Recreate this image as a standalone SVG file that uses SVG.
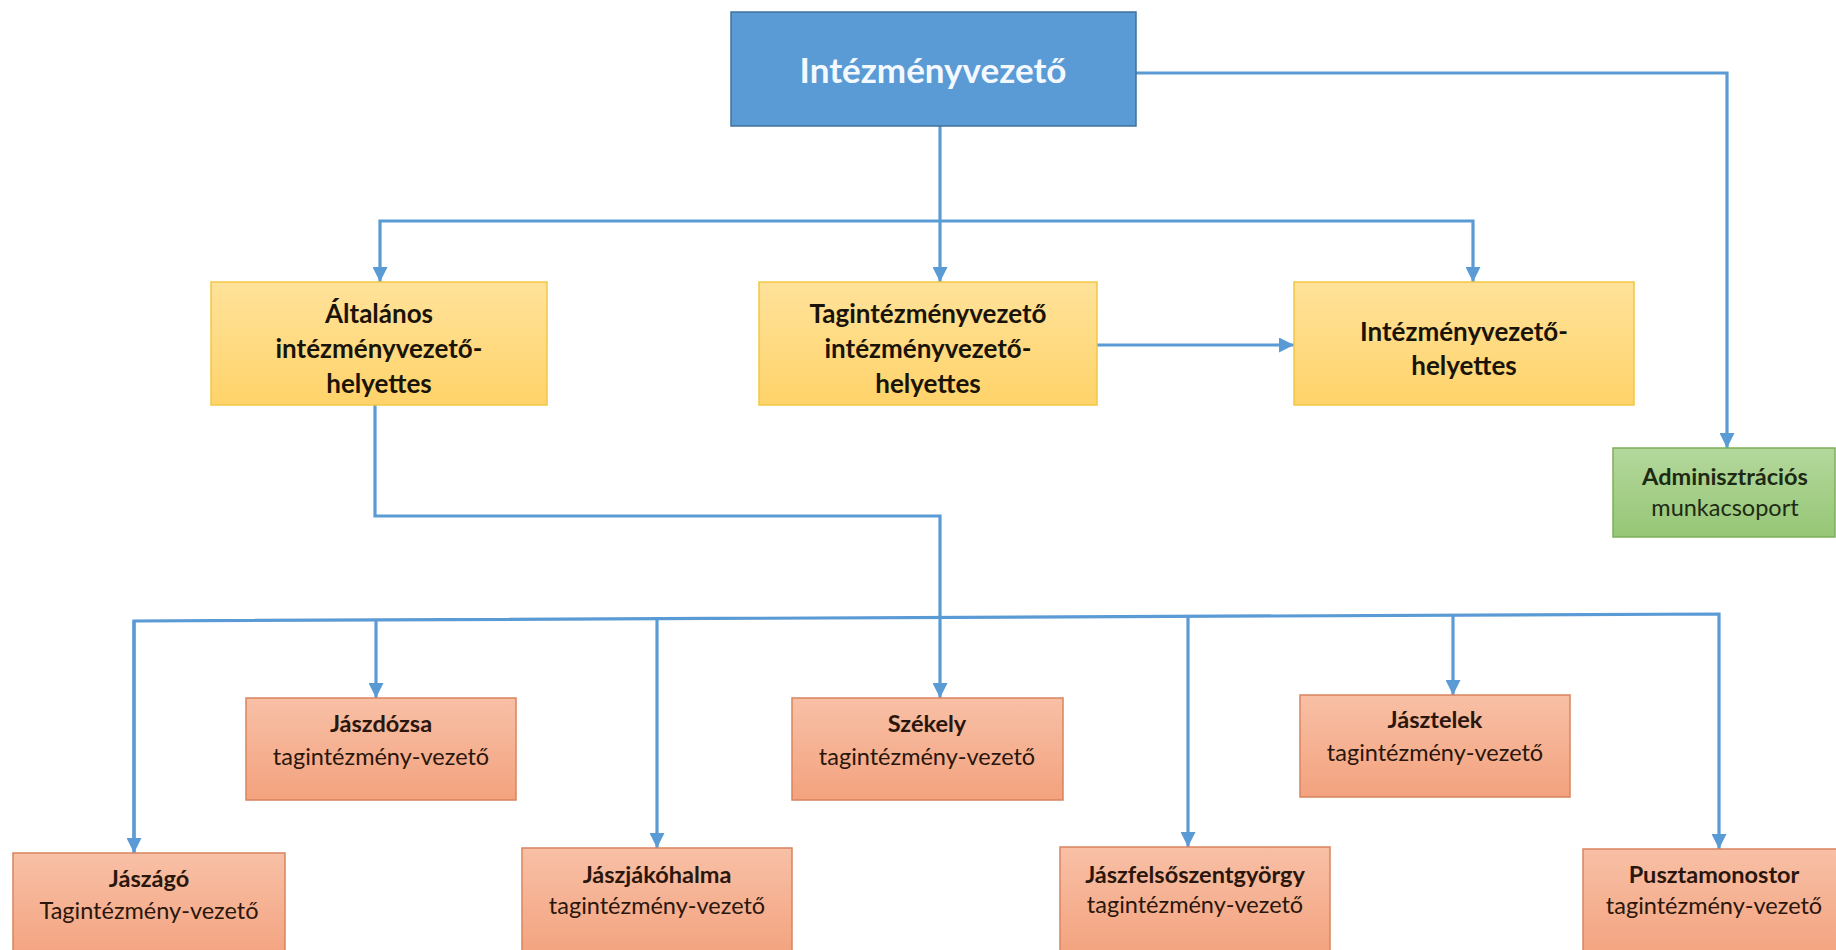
<svg xmlns="http://www.w3.org/2000/svg" width="1836" height="950" viewBox="0 0 1836 950">
<style>
text{font-family:Lato,"Open Sans","Liberation Sans",sans-serif;text-anchor:middle}
.b{font-weight:bold}
.top{fill:#5B9BD5;stroke:#41719C;stroke-width:1.5}
.yel{fill:url(#gy);stroke:#F2C744;stroke-width:1.5}
.org{fill:url(#go);stroke:#D9845E;stroke-width:1.5}
.grn{fill:url(#gg);stroke:#7DAF5A;stroke-width:1.5}
.tw{fill:#F4F9FF;font-size:35px;font-weight:bold}
.ty{fill:#1A1408;font-size:26px;font-weight:bold}
.to{fill:#2A160C;font-size:23.5px}
.tg{fill:#1E2A14;font-size:23.5px}
.c{fill:none;stroke:#5B9BD5;stroke-width:3.2}
</style>
<defs>
<linearGradient id="gy" x1="0" y1="0" x2="0" y2="1"><stop offset="0" stop-color="#FFE29A"/><stop offset="1" stop-color="#FFD36A"/></linearGradient>
<linearGradient id="go" x1="0" y1="0" x2="0" y2="1"><stop offset="0" stop-color="#F8C0A6"/><stop offset="1" stop-color="#F3A27E"/></linearGradient>
<linearGradient id="gg" x1="0" y1="0" x2="0" y2="1"><stop offset="0" stop-color="#B4D89C"/><stop offset="1" stop-color="#96C676"/></linearGradient>
<marker id="arr" viewBox="0 0 10 10" refX="10" refY="5" markerWidth="15" markerHeight="15" markerUnits="userSpaceOnUse" orient="auto"><path d="M0,0 L10,5 L0,10 z" fill="#5B9BD5"/></marker>
</defs>
<g id="connectors">
<path class="c" d="M940,126 V282" marker-end="url(#arr)"/>
<path class="c" d="M940,221 H380 V282" marker-end="url(#arr)"/>
<path class="c" d="M940,221 H1473 V282" marker-end="url(#arr)"/>
<path class="c" d="M1136,73 H1727 V448" marker-end="url(#arr)"/>
<path class="c" d="M1097,345 H1294" marker-end="url(#arr)"/>
<path class="c" d="M375,405 V516 H940 V698" marker-end="url(#arr)"/>
<path class="c" d="M134,853 V621 L1719,614 V849" marker-end="url(#arr)"/>
<path class="c" d="M376,620 V698" marker-end="url(#arr)"/>
<path class="c" d="M657,619 V848" marker-end="url(#arr)"/>
<path class="c" d="M1188,617 V847" marker-end="url(#arr)"/>
<path class="c" d="M1453,616 V695" marker-end="url(#arr)"/>
<path class="c" d="M134,621 V853" marker-end="url(#arr)"/>
</g>
<g id="intezmenyvezeto">
<rect class="top" x="731" y="12" width="405" height="114"/>
<text class="tw" x="933" y="83">Intézményvezető</text>
</g>
<g id="altalanos">
<rect class="yel" x="211" y="282" width="336" height="123"/>
<text class="ty" x="379" y="323">Általános</text>
<text class="ty" x="379" y="358">intézményvezető-</text>
<text class="ty" x="379" y="393">helyettes</text>
</g>
<g id="tagintezmenyvezeto">
<rect class="yel" x="759" y="282" width="338" height="123"/>
<text class="ty" x="928" y="323">Tagintézményvezető</text>
<text class="ty" x="928" y="358">intézményvezető-</text>
<text class="ty" x="928" y="393">helyettes</text>
</g>
<g id="helyettes">
<rect class="yel" x="1294" y="282" width="340" height="123"/>
<text class="ty" x="1464" y="341">Intézményvezető-</text>
<text class="ty" x="1464" y="375">helyettes</text>
</g>
<g id="adminisztracios">
<rect class="grn" x="1613" y="448" width="222" height="89"/>
<text class="tg b" x="1725" y="485">Adminisztrációs</text>
<text class="tg" x="1725" y="516">munkacsoport</text>
</g>
<g id="jaszago">
<rect class="org" x="13" y="853" width="272" height="110"/>
<text class="to b" x="149" y="887">Jászágó</text>
<text class="to" x="149" y="919">Tagintézmény-vezető</text>
</g>
<g id="jaszdozsa">
<rect class="org" x="246" y="698" width="270" height="102"/>
<text class="to b" x="381" y="732">Jászdózsa</text>
<text class="to" x="381" y="765">tagintézmény-vezető</text>
</g>
<g id="jaszjakohalma">
<rect class="org" x="522" y="848" width="270" height="110"/>
<text class="to b" x="657" y="883">Jászjákóhalma</text>
<text class="to" x="657" y="914">tagintézmény-vezető</text>
</g>
<g id="szekely">
<rect class="org" x="792" y="698" width="271" height="102"/>
<text class="to b" x="927" y="732">Székely</text>
<text class="to" x="927" y="765">tagintézmény-vezető</text>
</g>
<g id="jaszfelsoszentgyorgy">
<rect class="org" x="1060" y="847" width="270" height="110"/>
<text class="to b" x="1195" y="883">Jászfelsőszentgyörgy</text>
<text class="to" x="1195" y="913">tagintézmény-vezető</text>
</g>
<g id="jasztelek">
<rect class="org" x="1300" y="695" width="270" height="102"/>
<text class="to b" x="1435" y="728">Jásztelek</text>
<text class="to" x="1435" y="761">tagintézmény-vezető</text>
</g>
<g id="pusztamonostor">
<rect class="org" x="1583" y="849" width="260" height="110"/>
<text class="to b" x="1714" y="883">Pusztamonostor</text>
<text class="to" x="1714" y="914">tagintézmény-vezető</text>
</g>
</svg>
